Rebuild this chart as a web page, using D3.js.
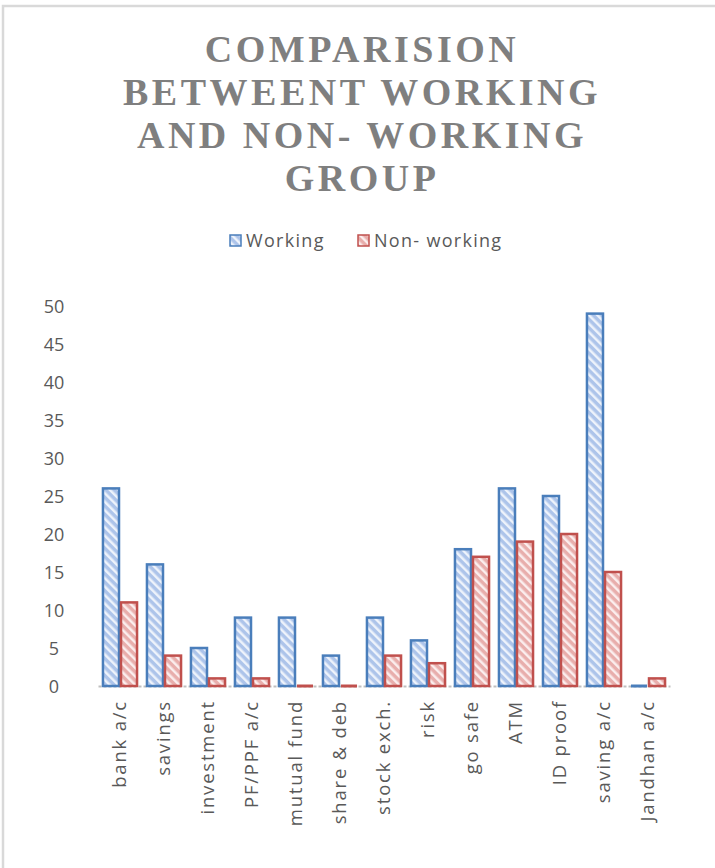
<!DOCTYPE html>
<html>
<head>
<meta charset="utf-8">
<script src="https://cdn.jsdelivr.net/npm/d3@7"></script>
<style>
  html, body { margin: 0; padding: 0; background: #fff; }
  svg { display: block; }
</style>
</head>
<body>
<div id="chart"></div>
<script>
// Survey answers counted for the two groups
const categories = ["bank a/c", "savings", "investment", "PF/PPF a/c", "mutual fund",
  "share & deb", "stock exch.", "risk", "go safe", "ATM", "ID proof", "saving a/c", "Jandhan a/c"];
const working    = [26, 16, 5, 9, 9, 4, 9, 6, 18, 26, 25, 49, 0];
const nonWorking = [11, 4, 1, 1, 0, 0, 4, 3, 17, 19, 20, 15, 1];
const seriesNames = ["Working", "Non- working"];
const yTicks = [0, 5, 10, 15, 20, 25, 30, 35, 40, 45, 50];
const titleLines = ["COMPARISION", "BETWEENT WORKING", "AND NON- WORKING", "GROUP"];

const W = 715, H = 868;
const labelFont = "'Open Sans', Lato, sans-serif";
const svg = d3.select("#chart").append("svg").attr("width", W).attr("height", H);

// hatched fills for the two series
const defs = svg.append("defs");
function hatch(id, bg, stripe) {
  const p = defs.append("pattern").attr("id", id)
    .attr("patternUnits", "userSpaceOnUse").attr("width", 6).attr("height", 6)
    .attr("patternTransform", "rotate(-45)");
  p.append("rect").attr("width", 6).attr("height", 6).attr("fill", bg);
  p.append("rect").attr("width", 2.5).attr("height", 6).attr("fill", stripe);
}
hatch("hatchBlue", "#adc4ea", "#eef3fb");
hatch("hatchRed", "#e8aeac", "#fbeeee");

const colors = [
  { stroke: "#4a7ebb", fill: "url(#hatchBlue)" },
  { stroke: "#c0504d", fill: "url(#hatchRed)" }
];

// outer frame
svg.append("rect").attr("x", 3).attr("y", 6).attr("width", W + 10).attr("height", H + 10)
  .attr("fill", "none").attr("stroke", "#d9d9d9").attr("stroke-width", 2.5);

// title
const title = svg.append("text").attr("text-anchor", "middle")
  .attr("font-family", "'Liberation Serif', 'DejaVu Serif', serif")
  .attr("font-weight", "bold").attr("font-size", 38).attr("letter-spacing", 3.5)
  .attr("fill", "#7f7f7f");
titleLines.forEach((t, i) => {
  title.append("tspan").attr("x", 362).attr("y", 62 + i * 43).text(t);
});

// legend
const legend = svg.append("g").attr("font-family", labelFont)
  .attr("font-size", 18).attr("letter-spacing", 1.3).attr("fill", "#595959");
const legendX = [229, 357];
seriesNames.forEach((name, i) => {
  const g = legend.append("g").attr("transform", `translate(${legendX[i]},234)`);
  g.append("rect").attr("x", 1).attr("y", 1).attr("width", 11).attr("height", 11)
    .attr("fill", colors[i].fill).attr("stroke", colors[i].stroke).attr("stroke-width", 1.5);
  g.append("text").attr("x", 17).attr("y", 13).text(name);
});

// scales
const x0 = d3.scaleBand().domain(categories).range([98, 670]).paddingInner(0.18).paddingOuter(0.09);
const x1 = d3.scaleBand().domain([0, 1]).range([0, x0.bandwidth()]);
const y = d3.scaleLinear().domain([0, 50]).range([686, 306]);

// y axis labels (no line)
const yAxis = svg.append("g").attr("transform", "translate(54,0)")
  .call(d3.axisLeft(y).tickValues(yTicks).tickSize(0).tickPadding(0));
yAxis.select(".domain").remove();
yAxis.selectAll("text").attr("font-family", labelFont)
  .attr("font-size", 18).attr("fill", "#595959").attr("text-anchor", "middle").attr("dy", "0.35em");

// category axis baseline
const xAxis = svg.append("g").attr("transform", `translate(0,${y(0)})`)
  .call(d3.axisBottom(x0).tickSize(0).tickPadding(14));
xAxis.select(".domain").attr("stroke", "#bfbfbf").attr("stroke-width", 2)
  .attr("stroke-dasharray", "3,2");
xAxis.selectAll("text").attr("font-family", labelFont)
  .attr("font-size", 18.5).attr("letter-spacing", 1.8).attr("fill", "#595959")
  .attr("text-anchor", "end").attr("transform", "rotate(-90)")
  .attr("x", -14).attr("y", 0).attr("dy", "0.35em");

// bars
const data = categories.map((c, i) => ({ c, vals: [working[i], nonWorking[i]] }));
const groups = svg.append("g").selectAll("g").data(data).join("g")
  .attr("transform", d => `translate(${x0(d.c)},0)`);
const marks = groups.selectAll("g").data(d => d.vals.map((v, s) => ({ v, s }))).join("g");
marks.filter(d => d.v > 0).append("rect")
  .attr("x", d => x1(d.s) + 1)
  .attr("width", x1.bandwidth() - 2)
  .attr("y", d => y(d.v))
  .attr("height", d => y(0) - y(d.v))
  .attr("fill", d => colors[d.s].fill)
  .attr("stroke", d => colors[d.s].stroke)
  .attr("stroke-width", 2.5);
// zero values still show as a flat outline on the baseline
marks.filter(d => d.v === 0).append("line")
  .attr("x1", d => x1(d.s) + 1)
  .attr("x2", d => x1(d.s) + x1.bandwidth() - 1)
  .attr("y1", d => y(d.v)).attr("y2", d => y(d.v))
  .attr("stroke", d => colors[d.s].stroke)
  .attr("stroke-width", 3);
</script>
</body>
</html>
